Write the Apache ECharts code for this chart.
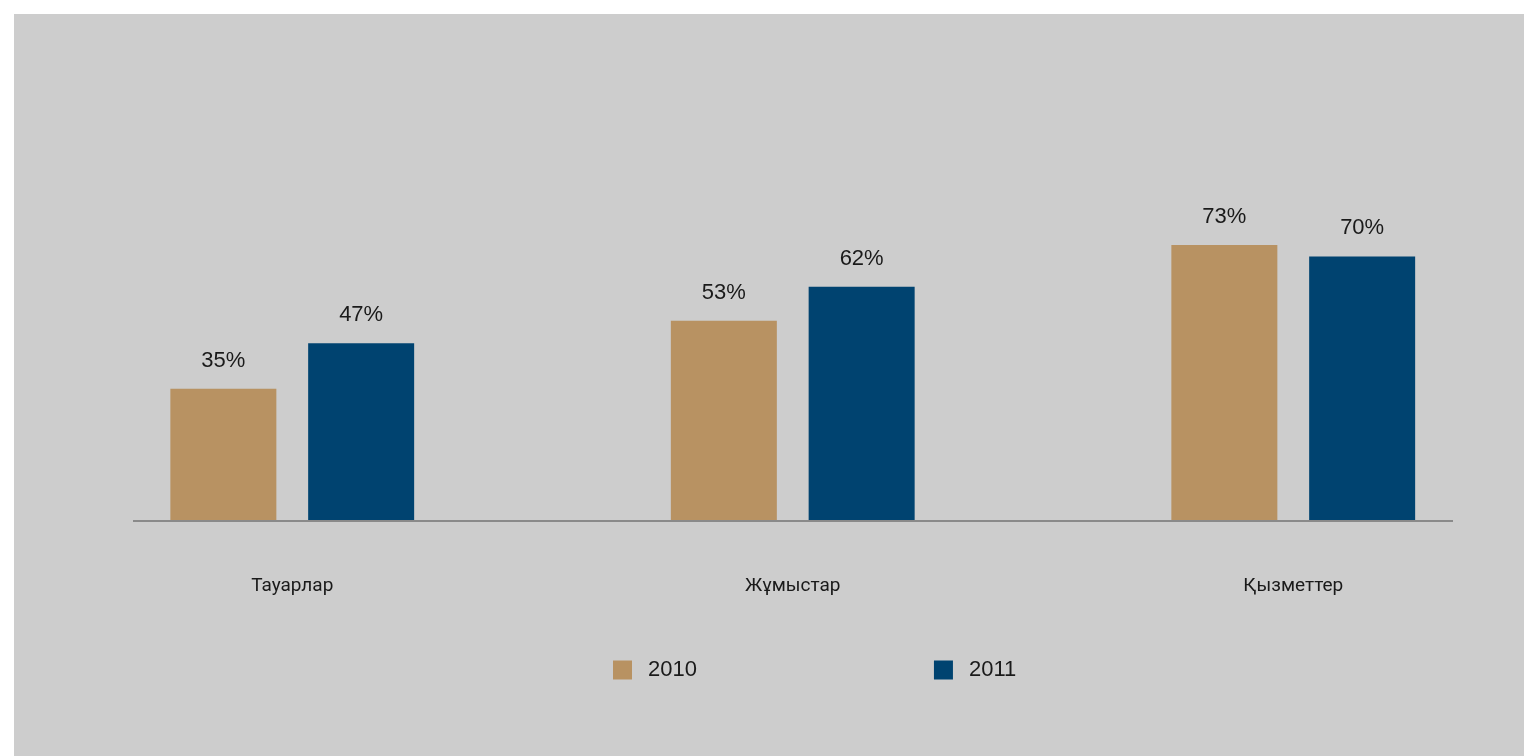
<!DOCTYPE html>
<html>
<head>
<meta charset="utf-8">
<script src="https://cdn.jsdelivr.net/npm/echarts@6/dist/echarts.min.js"></script>
<style>
html,body{margin:0;padding:0;background:#ffffff;}
#chart{width:1524px;height:756px;}
</style>
</head>
<body>
<div id="chart"></div>
<script>
const categories = ['Тауарлар', 'Жұмыстар', 'Қызметтер'];
const seriesNames = ['2010', '2011'];
const values2010 = [35, 53, 73];
const values2011 = [47, 62, 70];
const colors = ['#B89262', '#004370'];

const chart = echarts.init(document.getElementById('chart'));
const labelStyle = {
  show: true,
  position: 'top',
  distance: 17,
  formatter: '{c}%',
  color: '#1a1a1a',
  fontSize: 22,
  fontFamily: 'Liberation Sans'
};
chart.setOption({
  backgroundColor: '#ffffff',
  animation: false,
  graphic: [
    { type: 'rect', z: -10, silent: true, shape: { x: 14, y: 14, width: 1510, height: 742 }, style: { fill: '#cdcdcd' } },
    { type: 'line', z: 10, silent: true, shape: { x1: 133, y1: 521, x2: 1453, y2: 521 }, style: { stroke: '#8a8a8a', lineWidth: 2 } }
  ],
  grid: { left: 42, right: -19.5, top: 143, bottom: 235, outerBoundsMode: 'none', containLabel: false },
  legend: {
    data: seriesNames,
    left: 608,
    top: 654,
    itemWidth: 19,
    itemHeight: 19,
    itemGap: 237,
    icon: 'rect',
    textStyle: { fontSize: 22, color: '#1a1a1a', fontFamily: 'Liberation Sans', padding: [0, 0, 0, 11] }
  },
  xAxis: {
    type: 'category',
    data: categories,
    axisLine: { show: false },
    axisTick: { show: false },
    axisLabel: { margin: 56, fontSize: 19, color: '#1a1a1a', fontFamily: 'Roboto' }
  },
  yAxis: {
    type: 'value',
    min: 0,
    max: 100,
    show: false,
    splitLine: { show: false }
  },
  series: [
    { name: seriesNames[0], type: 'bar', data: values2010, barWidth: 106, barGap: '30%', itemStyle: { color: colors[0] }, label: labelStyle },
    { name: seriesNames[1], type: 'bar', data: values2011, barWidth: 106, barGap: '30%', itemStyle: { color: colors[1] }, label: labelStyle }
  ]
});
</script>
</body>
</html>
